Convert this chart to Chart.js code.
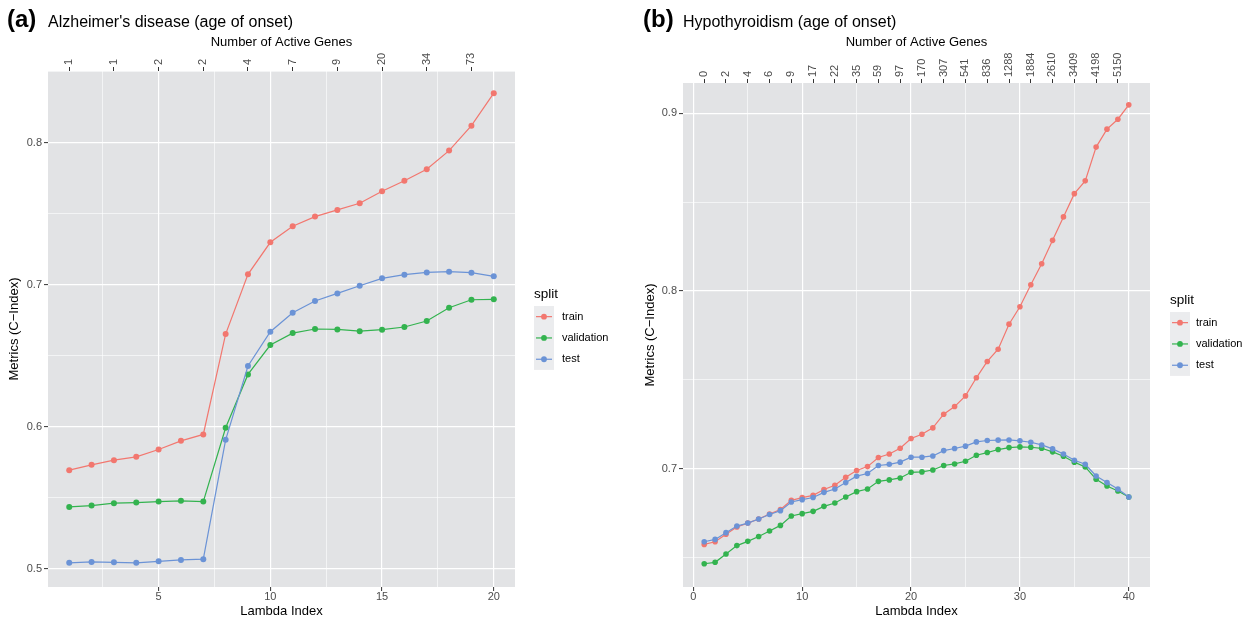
<!DOCTYPE html>
<html><head><meta charset="utf-8">
<script src="https://cdn.jsdelivr.net/npm/chart.js@4/dist/chart.umd.min.js"></script>
<style>
html,body{margin:0;padding:0;background:#fff;width:1251px;height:621px;overflow:hidden}
#ca{position:absolute;left:0;top:0}
#cb{position:absolute;left:630px;top:0}
</style></head><body>
<canvas id="ca" width="630" height="621"></canvas>
<canvas id="cb" width="621" height="621"></canvas>
<script>
// ---------- data ----------
const splitNames = ['train', 'validation', 'test'];
const splitColors = ['#F2776F', '#33B34F', '#6B93D6'];

// Panel (a) Alzheimer's disease
const lambdaA = [1,2,3,4,5,6,7,8,9,10,11,12,13,14,15,16,17,18,19,20];
const trainA = [0.5693,0.5731,0.5764,0.5787,0.5839,0.5900,0.5945,0.6652,0.7073,0.7299,0.7412,0.7480,0.7527,0.7574,0.7659,0.7733,0.7814,0.7945,0.8121,0.8350];
const validationA = [0.5434,0.5444,0.5461,0.5465,0.5472,0.5477,0.5472,0.5992,0.6368,0.6575,0.6659,0.6688,0.6685,0.6673,0.6683,0.6702,0.6744,0.6838,0.6894,0.6897];
const testA = [0.5040,0.5047,0.5044,0.5040,0.5051,0.5061,0.5066,0.5907,0.6427,0.6669,0.6803,0.6885,0.6939,0.6993,0.7045,0.7071,0.7087,0.7092,0.7085,0.7059];
const genesAtA = [1,3,5,7,9,11,13,15,17,19];
const genesA = ['1','1','2','2','4','7','9','20','34','73'];
const xGridA = [2.5,5,7.5,10,12.5,15,17.5,20];
const xMajorA = [5,10,15,20];
const yGridA = [0.5,0.55,0.6,0.65,0.7,0.75,0.8,0.85];
const yMajorA = [0.5,0.6,0.7,0.8];

// Panel (b) Hypothyroidism
const lambdaB = [1,2,3,4,5,6,7,8,9,10,11,12,13,14,15,16,17,18,19,20,21,22,23,24,25,26,27,28,29,30,31,32,33,34,35,36,37,38,39,40];
const trainB = [0.6573,0.6588,0.6630,0.6671,0.6693,0.6716,0.6744,0.6769,0.6821,0.6836,0.6849,0.6882,0.6906,0.6951,0.6989,0.7011,0.7062,0.7082,0.7114,0.7169,0.7193,0.7229,0.7306,0.7349,0.7409,0.7511,0.7603,0.7672,0.7813,0.7911,0.8035,0.8153,0.8285,0.8417,0.8548,0.8620,0.8810,0.8911,0.8967,0.9048];
const validationB = [0.6464,0.6472,0.6519,0.6566,0.6590,0.6617,0.6648,0.6680,0.6733,0.6746,0.6759,0.6787,0.6806,0.6840,0.6870,0.6885,0.6928,0.6936,0.6947,0.6979,0.6981,0.6992,0.7017,0.7026,0.7041,0.7075,0.7090,0.7107,0.7118,0.7122,0.7120,0.7114,0.7094,0.7069,0.7036,0.7009,0.6940,0.6902,0.6874,0.6840];
const testB = [0.6588,0.6601,0.6639,0.6676,0.6693,0.6716,0.6741,0.6763,0.6812,0.6825,0.6837,0.6866,0.6885,0.6921,0.6957,0.6972,0.7017,0.7024,0.7036,0.7064,0.7064,0.7071,0.7101,0.7113,0.7126,0.7150,0.7158,0.7160,0.7161,0.7156,0.7148,0.7133,0.7111,0.7082,0.7047,0.7024,0.6958,0.6921,0.6885,0.6840];
const genesAtB = [1,3,5,7,9,11,13,15,17,19,21,23,25,27,29,31,33,35,37,39];
const genesB = ['0','2','4','6','9','17','22','35','59','97','170','307','541','836','1288','1884','2610','3409','4198','5150'];
const xGridB = [0,5,10,15,20,25,30,35,40];
const xMajorB = [0,10,20,30,40];
const yGridB = [0.65,0.7,0.75,0.8,0.85,0.9];
const yMajorB = [0.7,0.8,0.9];

// ---------- drawing ----------
const FONT = "'Liberation Sans', Arial, Helvetica, sans-serif";
const PANEL_BG = '#E2E3E5';
const KEY_BG = '#EBECEE';

const panelPlugin = {
  id: 'panelDeco',
  beforeDraw(chart, args, o) {
    const {ctx, chartArea: a} = chart;
    ctx.save();
    ctx.fillStyle = PANEL_BG;
    ctx.fillRect(a.left, a.top, a.right - a.left, a.bottom - a.top);
    ctx.restore();
  },
  afterDraw(chart, args, o) {
    const {ctx, chartArea: a} = chart;
    ctx.save();
    ctx.textBaseline = 'alphabetic';
    ctx.textAlign = 'left';
    ctx.fillStyle = '#000';
    ctx.font = 'bold 24px ' + FONT;
    ctx.fillText(o.tag, o.tagX, 27);
    ctx.font = '16px ' + FONT;
    ctx.fillText(o.title, a.left, 26.5);
    // legend
    const L = o.legend;
    ctx.font = '13.5px ' + FONT;
    ctx.textBaseline = 'middle';
    ctx.fillText('split', L.x, L.titleY);
    ctx.fillStyle = KEY_BG;
    ctx.fillRect(L.x, L.keyTop, L.keyW, L.keyH * splitNames.length);
    ctx.font = '11px ' + FONT;
    splitNames.forEach((name, i) => {
      const cy = L.keyTop + L.keyH * (i + 0.5);
      ctx.strokeStyle = splitColors[i];
      ctx.lineWidth = 1.2;
      ctx.beginPath();
      ctx.moveTo(L.x + 2, cy);
      ctx.lineTo(L.x + L.keyW - 2, cy);
      ctx.stroke();
      ctx.fillStyle = splitColors[i];
      ctx.beginPath();
      ctx.arc(L.x + L.keyW / 2, cy, 2.9, 0, Math.PI * 2);
      ctx.fill();
      ctx.fillStyle = '#000';
      ctx.fillText(name, L.labelX, cy);
    });
    ctx.restore();
  }
};

function buildChart(id, s) {
  const series = [s.train, s.validation, s.test];
  const datasets = series.map((vals, i) => ({
    label: splitNames[i],
    data: s.x.map((x, j) => ({x: x, y: vals[j]})),
    borderColor: splitColors[i],
    backgroundColor: splitColors[i],
    pointBackgroundColor: splitColors[i],
    order: 2 - i
  }));
  const tickFont = {family: FONT, size: 11, lineHeight: 1};
  const topTickFont = {family: FONT, size: 11, lineHeight: 0.01};
  const titleFont = {family: FONT, size: 13};
  return new Chart(document.getElementById(id), {
    type: 'line',
    data: {datasets},
    options: {
      responsive: false,
      animation: false,
      events: [],
      layout: {padding: {left: 0, top: 0, right: s.padRight, bottom: 0}},
      elements: {
        line: {borderWidth: 1.2, tension: 0},
        point: {radius: s.pointR, borderWidth: 0, hoverRadius: s.pointR}
      },
      plugins: {
        legend: {display: false},
        tooltip: {enabled: false},
        panelDeco: {tag: s.tag, tagX: s.tagX, title: s.title, legend: s.legend}
      },
      scales: {
        x: {
          type: 'linear', position: 'bottom', min: s.xMin, max: s.xMax,
          afterBuildTicks: sc => { sc.ticks = s.xGrid.map(v => ({value: v})); },
          afterFit: sc => { sc.height = 621 - s.bottom; },
          ticks: {autoSkip: false, minRotation: 0, maxRotation: 0, padding: 0, color: '#4D4D4D', font: tickFont,
                  callback: v => s.xMajor.includes(v) ? String(v) : ''},
          grid: {color: '#FFFFFF', lineWidth: c => (c.tick && s.xMajor.includes(c.tick.value)) ? 1.2 : 0.6,
                 tickColor: c => (c.tick && s.xMajor.includes(c.tick.value)) ? '#333333' : 'rgba(0,0,0,0)',
                 tickLength: 4, tickWidth: 1},
          border: {display: false},
          title: {display: true, text: 'Lambda Index', color: '#000', font: titleFont, padding: {top: 0, bottom: 2}}
        },
        x2: {
          type: 'linear', position: 'top', min: s.xMin, max: s.xMax,
          afterBuildTicks: sc => { sc.ticks = s.genesAt.map(v => ({value: v})); },
          afterFit: sc => { sc.height = s.top; },
          ticks: {autoSkip: false, minRotation: 90, maxRotation: 90, padding: 2, color: '#4D4D4D', font: topTickFont,
                  callback: (v, i) => s.genes[i]},
          grid: {drawOnChartArea: false, color: '#333333', tickColor: '#333333', tickLength: 4, tickWidth: 1},
          border: {display: false},
          title: {display: true, text: 'Number of Active Genes', color: '#000', font: titleFont, padding: {top: 35, bottom: 0}}
        },
        y: {
          type: 'linear', position: 'left', min: s.yMin, max: s.yMax,
          afterBuildTicks: sc => { sc.ticks = s.yGrid.map(v => ({value: v})); },
          afterFit: sc => { sc.width = s.left; },
          ticks: {autoSkip: false, padding: 2, color: '#4D4D4D', font: tickFont,
                  callback: v => s.yMajor.includes(v) ? v.toFixed(1) : ''},
          grid: {color: '#FFFFFF', lineWidth: c => (c.tick && s.yMajor.includes(c.tick.value)) ? 1.2 : 0.6,
                 tickColor: c => (c.tick && s.yMajor.includes(c.tick.value)) ? '#333333' : 'rgba(0,0,0,0)',
                 tickLength: 4, tickWidth: 1},
          border: {display: false},
          title: {display: true, text: 'Metrics (C\u2212Index)', color: '#000', font: titleFont, padding: {top: s.yTitlePad, bottom: 0}}
        }
      }
    },
    plugins: [panelPlugin]
  });
}

buildChart('ca', {
  x: lambdaA, train: trainA, validation: validationA, test: testA,
  genesAt: genesAtA, genes: genesA,
  xGrid: xGridA, xMajor: xMajorA, yGrid: yGridA, yMajor: yMajorA,
  xMin: 0.05, xMax: 20.95, yMin: 0.487, yMax: 0.8506,
  left: 48, top: 71, bottom: 587, padRight: 115, yTitlePad: 7, pointR: 3,
  tag: '(a)', tagX: 7, title: "Alzheimer's disease (age of onset)",
  legend: {x: 534, titleY: 294, keyTop: 306, keyW: 20, keyH: 21.3, labelX: 562}
});

buildChart('cb', {
  x: lambdaB, train: trainB, validation: validationB, test: testB,
  genesAt: genesAtB, genes: genesB,
  xGrid: xGridB, xMajor: xMajorB, yGrid: yGridB, yMajor: yMajorB,
  xMin: -0.95, xMax: 41.95, yMin: 0.6333, yMax: 0.9171,
  left: 53, top: 83, bottom: 587, padRight: 101, yTitlePad: 13, pointR: 2.8,
  tag: '(b)', tagX: 13, title: 'Hypothyroidism (age of onset)',
  legend: {x: 540, titleY: 300, keyTop: 312, keyW: 20, keyH: 21.3, labelX: 566}
});
</script>
</body></html>
